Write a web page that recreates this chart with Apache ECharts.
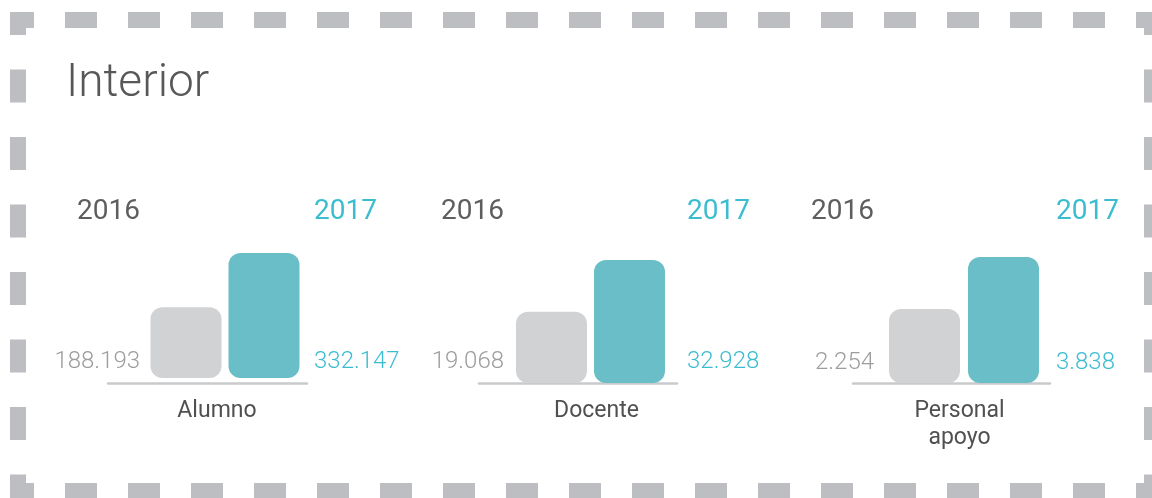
<!DOCTYPE html>
<html>
<head>
<meta charset="utf-8">
<title>Interior</title>
<script src="https://cdn.jsdelivr.net/npm/echarts@6/dist/echarts.min.js"></script>
<style>
  html, body { margin: 0; padding: 0; background: #fff; }
  #chart { width: 1152px; height: 498px; }
</style>
</head>
<body>
<div id="chart"></div>
<script>
// datos
const categories = ['Alumno', 'Docente', 'Personal\napoyo']
const years = ['2016', '2017']
const values2016 = [188193, 19068, 2254]
const values2017 = [332147, 32928, 3838]

// posiciones de cada bloque (px)
const blocks = [
  { left: 147, width: 156, top: 253, base: 378, axisL: 108, axisR: 307, textL: 140, textR: 314, labelY: 362, nameShift: 19 },
  { left: 512.5, width: 156, top: 260, base: 383, axisL: 479, axisR: 677, textL: 504, textR: 687, labelY: 362, nameShift: 37 },
  { left: 885, width: 158, top: 257, base: 383, axisL: 853, axisR: 1050, textL: 874, textR: 1056, labelY: 363, nameShift: 16 }
]

const H = 498
const BAR_W = 71
const GRAY = '#d1d2d4'
const TEAL = '#69bec7'
const DARK = '#5e5e60'
const TEXT_TEAL = '#3bbdd0'
const TEXT_GRAY = '#9d9d9f'
const FONT = 'Roboto, sans-serif'

const fmt = v => String(v).replace(/\B(?=(\d{3})+(?!\d))/g, '.')

const grid = []
const xAxis = []
const yAxis = []
const series = []

blocks.forEach((b, i) => {
  const band = b.width / 2
  const c0 = b.left + band / 2
  const c1 = b.left + band * 1.5
  const barL = c0 - BAR_W / 2
  const barR = c1 + BAR_W / 2
  const dy = b.labelY - b.base

  // grid de barras
  grid.push({ left: b.left, width: b.width, top: b.top, bottom: H - b.base })
  xAxis.push({
    gridIndex: i * 2,
    type: 'category',
    position: 'top',
    data: [
      { value: years[0], textStyle: { align: 'right', padding: [0, c0 - b.textL, 0, 0], color: DARK } },
      { value: years[1], textStyle: { align: 'left', padding: [0, 0, 0, b.textR - c1], color: TEXT_TEAL } }
    ],
    axisLine: { show: false },
    axisTick: { show: false },
    axisLabel: {
      interval: 0,
      hideOverlap: false,
      margin: b.top - 226,
      verticalAlign: 'middle',
      fontSize: 28,
      fontFamily: FONT
    }
  })
  yAxis.push({ gridIndex: i * 2, type: 'value', min: 0, max: 'dataMax', show: false })
  series.push({
    type: 'bar',
    xAxisIndex: i * 2,
    yAxisIndex: i * 2,
    barWidth: BAR_W,
    itemStyle: { borderRadius: 12 },
    data: [
      {
        value: values2016[i],
        itemStyle: { color: GRAY },
        label: {
          show: true,
          position: [-(barL - b.textL), '100%'],
          offset: [0, dy],
          align: 'right',
          verticalAlign: 'middle',
          color: TEXT_GRAY
        }
      },
      {
        value: values2017[i],
        itemStyle: { color: TEAL },
        label: {
          show: true,
          position: ['100%', '100%'],
          offset: [b.textR - barR, dy],
          align: 'left',
          verticalAlign: 'middle',
          color: TEXT_TEAL
        }
      }
    ],
    label: {
      fontSize: 24,
      fontWeight: 300,
      fontFamily: FONT,
      formatter: p => fmt(p.value)
    }
  })

  // grid de la linea base y el nombre
  grid.push({ left: b.axisL, width: b.axisR - b.axisL, top: b.top, bottom: H - 383 })
  xAxis.push({
    gridIndex: i * 2 + 1,
    type: 'category',
    data: [categories[i]],
    axisLine: { lineStyle: { color: '#c9cacc', width: 2.5 } },
    axisTick: { show: false },
    axisLabel: {
      interval: 0,
      margin: 15,
      verticalAlign: 'top',
      lineHeight: 27,
      fontSize: 23,
      fontFamily: FONT,
      color: '#505052',
      padding: [0, 0, 0, b.nameShift]
    }
  })
  yAxis.push({ gridIndex: i * 2 + 1, type: 'value', min: 0, max: 1, show: false })
})

// borde discontinuo
const BORDER = '#bdbec2'
const hLine = y => ({
  type: 'line',
  silent: true,
  shape: { x1: 10, y1: y, x2: 1160, y2: y },
  style: { stroke: BORDER, lineWidth: 16, lineDash: [32, 31], lineDashOffset: 8 }
})
const vLine = x => ({
  type: 'line',
  silent: true,
  shape: { x1: x, y1: 12, x2: x, y2: 500 },
  style: { stroke: BORDER, lineWidth: 16, lineDash: [33, 34.5], lineDashOffset: 10 }
})

const option = {
  animation: false,
  backgroundColor: '#fff',
  title: {
    text: 'Interior',
    left: 66,
    top: 61,
    padding: 0,
    textStyle: { fontSize: 46, fontWeight: 300, fontFamily: FONT, color: '#58585a' }
  },
  graphic: [hLine(20), hLine(491), vLine(18), vLine(1152)],
  grid,
  xAxis,
  yAxis,
  series
}

const chart = echarts.init(document.getElementById('chart'))
chart.setOption(option)
</script>
</body>
</html>
